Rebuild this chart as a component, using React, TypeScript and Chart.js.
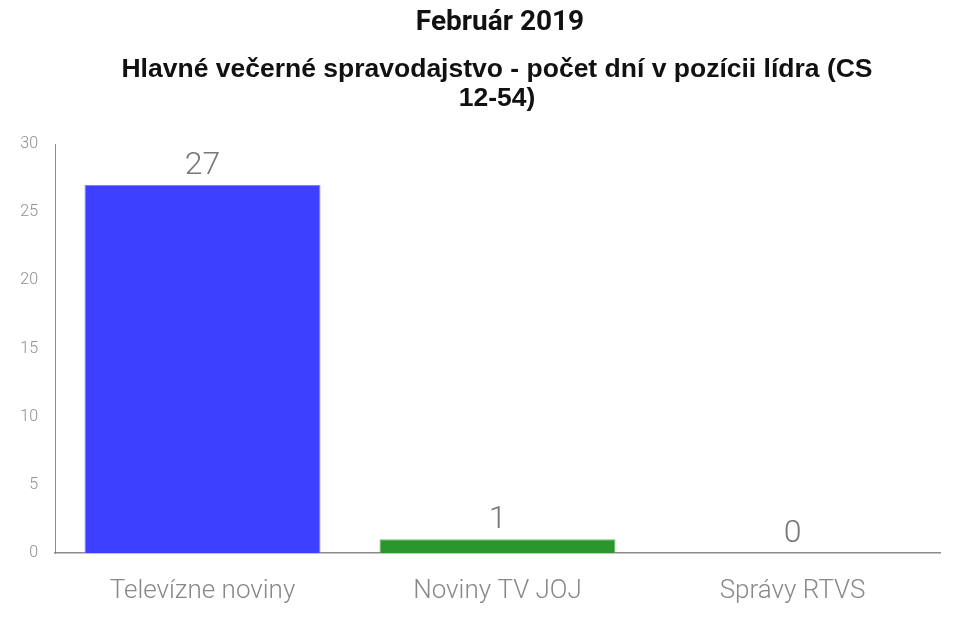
import React, { useEffect, useRef } from "react";
import { Chart, registerables } from "chart.js";

Chart.register(...registerables);

const categories = ["Televízne noviny", "Noviny TV JOJ", "Správy RTVS"];
const values = [27, 1, 0];
const barColors = ["#3e40ff", "#2b962d", "#888888"];
const borderColors = ["#7f80ff", "#6cc06c", "#888888"];
const yTicks = [0, 5, 10, 15, 20, 25, 30];
const titleText = "Február 2019";
const subtitleLines = ["Hlavné večerné spravodajstvo - počet dní v pozícii lídra (CS", "12-54)"];

const LIGHT = "'Roboto', 'Liberation Sans', sans-serif";

const headerPlugin = {
  id: "header",
  afterDraw(chart: any) {
    const ctx = chart.ctx;
    ctx.save();
    ctx.fillStyle = "#111111";
    ctx.textAlign = "center";
    ctx.textBaseline = "middle";
    ctx.font = "bold 28px 'Roboto', sans-serif";
    ctx.fillText(titleText, 492, 15);
    ctx.font = "bold 26.5px 'Liberation Sans', Arial, sans-serif";
    subtitleLines.forEach((line, i) => {
      ctx.fillText(line, 489, 62 + i * 29);
    });
    ctx.restore();
  },
};

const valueLabels = {
  id: "valueLabels",
  afterDatasetsDraw(chart: any) {
    const ctx = chart.ctx;
    const meta = chart.getDatasetMeta(0);
    ctx.save();
    ctx.fillStyle = "#777777";
    ctx.font = `300 32px ${LIGHT}`;
    ctx.textAlign = "center";
    ctx.textBaseline = "bottom";
    meta.data.forEach((bar: any, i: number) => {
      ctx.fillText(String(values[i]), bar.x, bar.y - 3);
    });
    ctx.restore();
  },
};

export default function App() {
  const ref = useRef<HTMLCanvasElement | null>(null);
  useEffect(() => {
    if (!ref.current) return;
    const chart = new Chart(ref.current, {
      type: "bar",
      data: {
        labels: categories,
        datasets: [
          {
            data: values,
            backgroundColor: barColors,
            borderColor: borderColors,
            borderWidth: 1,
            barPercentage: 0.8,
            categoryPercentage: 1,
          },
        ],
      },
      options: {
        animation: false,
        responsive: true,
        maintainAspectRatio: false,
        layout: { padding: { left: 0, right: 11, top: 136, bottom: 0 } },
        plugins: {
          legend: { display: false },
          tooltip: { enabled: false },
          title: { display: false },
        },
        scales: {
          x: {
            afterFit(scale: any) {
              scale.height = 64;
            },
            grid: { display: false, drawTicks: false },
            border: { display: true, color: "#8a8a8a", width: 1.5 },
            ticks: {
              color: "#888888",
              padding: 23,
              font: { family: LIGHT, size: 26, weight: 300 },
            },
          },
          y: {
            min: 0,
            max: 30,
            afterBuildTicks(scale: any) {
              scale.ticks = yTicks.map((v) => ({ value: v }));
            },
            afterFit(scale: any) {
              scale.width = 47;
            },
            grid: { display: false, drawTicks: false },
            border: { display: true, color: "#8a8a8a", width: 1 },
            ticks: {
              color: "#8f8f8f",
              padding: 17,
              font: { family: LIGHT, size: 16, weight: 300 },
            },
          },
        },
      },
      plugins: [valueLabels, headerPlugin],
    });
    return () => chart.destroy();
  }, []);
  return (
    <div style={{ width: 943, height: 609, position: "relative" }}>
      <canvas ref={ref} />
    </div>
  );
}
